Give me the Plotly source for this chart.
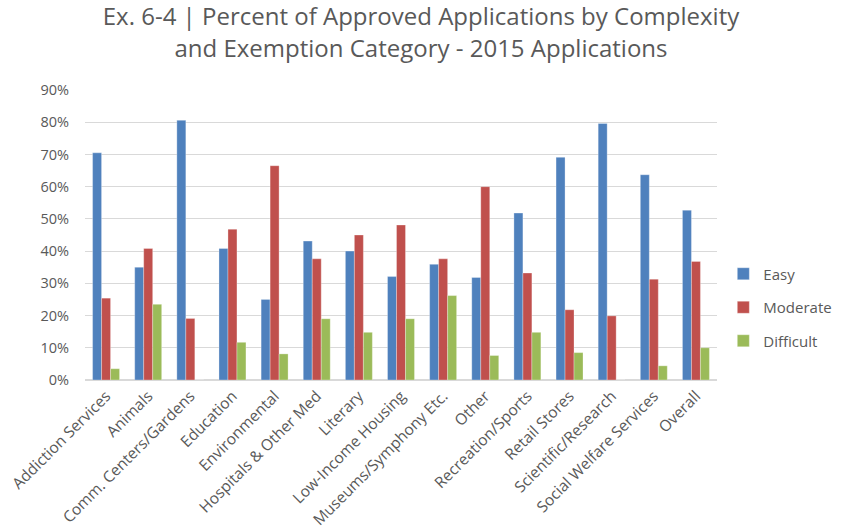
import plotly.graph_objects as go

categories = ["Addiction Services", "Animals", "Comm. Centers/Gardens", "Education",
              "Environmental", "Hospitals & Other Med", "Literary", "Low-Income Housing",
              "Museums/Symphony Etc.", "Other", "Recreation/Sports", "Retail Stores",
              "Scientific/Research", "Social Welfare Services", "Overall"]
easy = [0.705, 0.35, 0.806, 0.408, 0.25, 0.431, 0.40, 0.321, 0.359, 0.318, 0.518, 0.691, 0.796, 0.637, 0.527]
moderate = [0.254, 0.408, 0.191, 0.468, 0.665, 0.376, 0.45, 0.481, 0.376, 0.60, 0.332, 0.218, 0.199, 0.313, 0.368]
difficult = [0.035, 0.235, 0.0, 0.117, 0.081, 0.19, 0.148, 0.19, 0.262, 0.076, 0.148, 0.085, 0.0, 0.044, 0.10]

series = [("Easy", easy, "#4F81BD"), ("Moderate", moderate, "#C0504D"), ("Difficult", difficult, "#9BBB59")]

fig = go.Figure()
for name, vals, color in series:
    fig.add_trace(go.Bar(x=categories, y=vals, name=name, marker_color=color, legendgroup=name,
                         marker_line=dict(width=0.6, color="rgba(255,255,255,0.5)")))

font_family = "Open Sans, Liberation Sans, sans-serif"
fig.update_layout(
    width=842, height=529,
    paper_bgcolor="white", plot_bgcolor="white",
    barmode="group", bargap=0.36, bargroupgap=0,
    margin=dict(l=85, r=125, t=90, b=149, autoexpand=False),
    title=dict(text="Ex. 6-4 | Percent of Approved Applications by Complexity<br>and Exemption Category - 2015 Applications",
               x=0.5, xanchor="center", y=0.952, yanchor="middle",
               font=dict(family=font_family, size=24, color="#595959")),
    font=dict(family=font_family, color="#595959", size=13),
    legend=dict(x=1.01, y=0.25, xanchor="left", yanchor="middle",
                font=dict(size=15, color="#595959"), tracegroupgap=11,
                itemwidth=30),
    showlegend=True,
)
fig.update_yaxes(range=[0, 0.9], dtick=0.1, tickformat=".0%", showgrid=True,
                 gridcolor="#D9D9D9", gridwidth=1, zeroline=True, zerolinecolor="#D9D9D9",
                 ticks="", ticklabelstandoff=15, tickfont=dict(size=14.5, color="#595959"))
fig.update_xaxes(tickangle=-45, showline=True, linecolor="#D9D9D9", ticks="",
                 tickfont=dict(size=15.5, color="#595959"))

fig.write_html("out.html", config={"displayModeBar": False},
               post_script="document.body.style.margin='0';document.body.style.padding='0';")
